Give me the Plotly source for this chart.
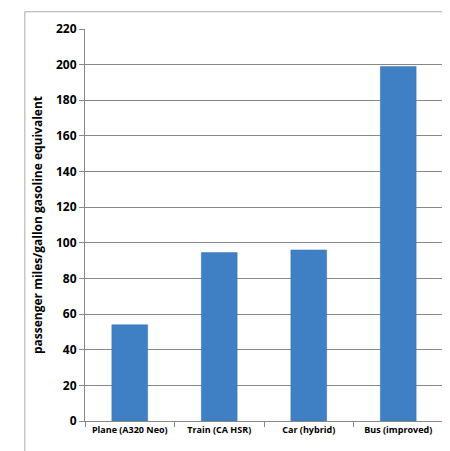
import plotly.graph_objects as go

categories = ['Plane (A320 Neo)', 'Train (CA HSR)', 'Car (hybrid)', 'Bus (improved)']
values = [54, 94.5, 96, 199]
y_ticks = list(range(0, 221, 20))

fig = go.Figure()
fig.add_trace(go.Bar(
    x=categories,
    y=values,
    width=0.4,
    marker=dict(color='#3f7fc4', line=dict(color='#3a75b5', width=0.5)),
    showlegend=False
))

fig.update_layout(
    width=450,
    height=451,
    margin=dict(l=77, r=15, t=18, b=38),
    plot_bgcolor='white',
    paper_bgcolor='white',
    font=dict(family='Open Sans', size=11, color='black'),
    bargap=0.6
)
fig.update_xaxes(
    showline=True, linecolor='#888888', linewidth=1,
    ticks='outside', tickcolor='#888888', ticklen=5,
    tickson='boundaries', tickangle=0, automargin=False,
    tickfont=dict(size=9, family='Open Sans', color='black', weight='bold')
)
fig.update_yaxes(
    range=[0, 220], tickvals=y_ticks,
    showgrid=True, gridcolor='#888888', gridwidth=1,
    showline=True, linecolor='#888888', linewidth=1,
    ticks='outside', tickcolor='#888888', ticklen=5,
    tickfont=dict(size=12, family='Open Sans', color='black', weight='bold'),
    title=dict(text='<b>passenger miles/gallon gasoline equivalent</b>',
               font=dict(size=12, family='Open Sans'), standoff=10)
)
fig.add_shape(type='rect', xref='paper', yref='paper',
              x0=-0.168, x1=1.034, y0=-0.093, y1=1.044,
              line=dict(color='#aaaaaa', width=1))

fig.write_html("out.html")
